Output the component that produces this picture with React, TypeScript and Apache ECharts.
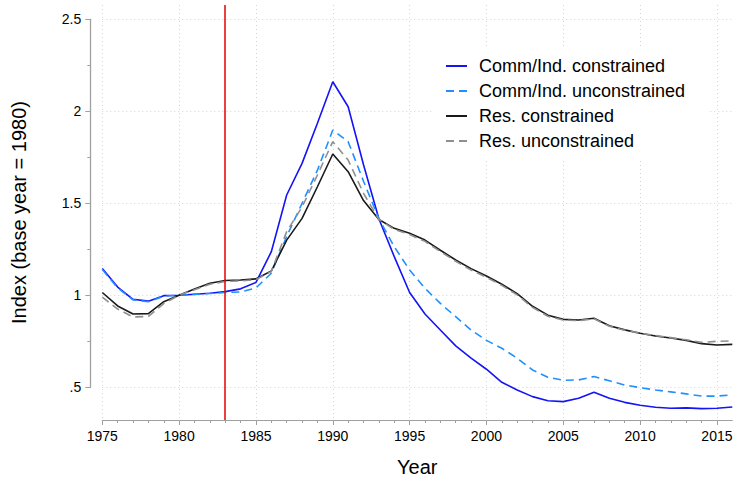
import React, { useEffect, useRef } from "react";
import * as echarts from "echarts";

// Years 1975–2016
const years: number[] = [];
for (let y = 1975; y <= 2016; y++) years.push(y);

const commConstrained = [
  1.145, 1.045, 0.978, 0.968, 0.998, 1.0, 1.006, 1.011, 1.02, 1.035,
  1.07, 1.237, 1.545, 1.717, 1.935, 2.161, 2.025, 1.71, 1.416, 1.21,
  1.015, 0.898, 0.811, 0.725, 0.658, 0.598, 0.527, 0.485, 0.449, 0.427,
  0.422, 0.44, 0.473, 0.44, 0.418, 0.402, 0.391, 0.386, 0.388, 0.384,
  0.386, 0.393,
];
const commUnconstrained = [
  1.14, 1.04, 0.975, 0.965, 0.995, 1.0, 1.005, 1.01, 1.015, 1.018,
  1.04, 1.12, 1.32, 1.5, 1.68, 1.898, 1.835, 1.62, 1.416, 1.264,
  1.137, 1.038, 0.956, 0.884, 0.811, 0.755, 0.712, 0.658, 0.594, 0.554,
  0.538, 0.54, 0.558, 0.535, 0.512, 0.498, 0.485, 0.475, 0.464, 0.452,
  0.452, 0.459,
];
const resConstrained = [
  1.015, 0.942, 0.898, 0.9, 0.965, 1.0, 1.034, 1.065, 1.08, 1.083,
  1.089, 1.132, 1.3, 1.418, 1.59, 1.768, 1.672, 1.515, 1.412, 1.364,
  1.337, 1.3, 1.245, 1.192, 1.145, 1.105, 1.06, 1.009, 0.94, 0.892,
  0.869, 0.866, 0.875, 0.834, 0.812, 0.794, 0.779, 0.768, 0.755, 0.737,
  0.73, 0.733,
];
const resUnconstrained = [
  0.99, 0.925, 0.882, 0.885, 0.955, 1.0, 1.03, 1.06, 1.075, 1.078,
  1.085, 1.13, 1.346, 1.48, 1.654, 1.835, 1.735, 1.554, 1.412, 1.358,
  1.33, 1.293, 1.238, 1.185, 1.137, 1.098, 1.054, 1.002, 0.934, 0.886,
  0.865, 0.862, 0.872, 0.832, 0.81, 0.794, 0.781, 0.77, 0.758, 0.744,
  0.75, 0.752,
];

const seriesNames = [
  "Comm/Ind. constrained",
  "Comm/Ind. unconstrained",
  "Res. constrained",
  "Res. unconstrained",
];

const xMajorTicks = [1975, 1980, 1985, 1990, 1995, 2000, 2005, 2010, 2015];
const xMinorTicks = years.filter((y) => y % 5 !== 0 && y <= 2015);
const yMajorTicks = [0.5, 1, 1.5, 2, 2.5];
const yMinorTicks = [0.75, 1.25, 1.75, 2.25];
const policyYear = 1983;

const WIDTH = 737;
const HEIGHT = 477;
const X_MIN = 1975;
const X_MAX = 2016;
const Y_MIN = 0.322;
const Y_MAX = 2.578;
const GRID = { left: 102.3, right: 4.7, top: 5, bottom: 57 };
const Y_OFFSET = 12;
const AXIS_COLOR = "#a0a0a0";
const GRID_COLOR = "#d4d4d4";
const FONT = "'Liberation Sans', Arial, Helvetica, sans-serif";

const pairs = (vals: number[]) => years.map((y, i) => [y, vals[i]]);

// A second, empty grid spanning only .5 to 2.5 carries the shortened y axis line
const plotH = HEIGHT - GRID.top - GRID.bottom;
const yPos = (v: number) => GRID.top + ((Y_MAX - v) / (Y_MAX - Y_MIN)) * plotH;
const Y_LINE_LO = yMajorTicks[0];
const Y_LINE_HI = yMajorTicks[yMajorTicks.length - 1];
const axisGrid = {
  left: GRID.left - Y_OFFSET,
  right: GRID.right,
  top: yPos(Y_LINE_HI),
  bottom: HEIGHT - yPos(Y_LINE_LO),
};

export default function App() {
  const ref = useRef<HTMLDivElement>(null);

  useEffect(() => {
    if (!ref.current) return;
    const chart = echarts.init(ref.current, undefined, { renderer: "svg" });

    const lineSeries = (
      name: string,
      vals: number[],
      color: string,
      dashed: boolean,
      width: number
    ) => ({
      name,
      type: "line",
      xAxisIndex: 0,
      yAxisIndex: 0,
      data: pairs(vals),
      symbol: "none",
      showSymbol: false,
      lineStyle: { color, width, type: dashed ? [8, 5] : "solid" },
      itemStyle: { color },
      z: 3,
    });

    chart.setOption({
      animation: false,
      textStyle: { fontFamily: FONT },
      grid: [
        { ...GRID, containLabel: false, outerBoundsMode: "none" },
        { ...axisGrid, containLabel: false, outerBoundsMode: "none" },
      ],
      xAxis: [
        {
          type: "value",
          gridIndex: 0,
          min: X_MIN,
          max: X_MAX,
          name: "Year",
          nameLocation: "middle",
          nameGap: 37,
          nameTextStyle: { fontSize: 20, color: "#000", fontFamily: FONT },
          axisLine: { show: true, lineStyle: { color: AXIS_COLOR, width: 1.2 } },
          axisTick: {
            show: true,
            customValues: xMajorTicks,
            length: 5,
            lineStyle: { color: AXIS_COLOR },
          },
          axisLabel: {
            customValues: xMajorTicks,
            fontSize: 14,
            color: "#000",
            margin: 9,
            fontFamily: FONT,
            formatter: (v: number) => String(v),
          },
          splitLine: {
            show: true,
            lineStyle: { color: GRID_COLOR, type: [1, 3], width: 1 },
          },
        },
        {
          type: "value",
          gridIndex: 0,
          min: X_MIN,
          max: X_MAX,
          position: "bottom",
          axisLine: { show: false },
          axisTick: {
            show: true,
            customValues: xMinorTicks,
            length: 3,
            lineStyle: { color: AXIS_COLOR },
          },
          axisLabel: { show: false },
          splitLine: { show: false },
        },
        {
          type: "value",
          gridIndex: 1,
          min: X_MIN,
          max: X_MAX,
          show: false,
        },
      ],
      yAxis: [
        {
          type: "value",
          gridIndex: 0,
          min: Y_MIN,
          max: Y_MAX,
          offset: Y_OFFSET,
          name: "Index (base year = 1980)",
          nameLocation: "middle",
          nameGap: 61,
          nameTextStyle: { fontSize: 20, color: "#000", fontFamily: FONT },
          axisLine: { show: false },
          axisTick: {
            show: true,
            customValues: yMajorTicks,
            length: 5,
            lineStyle: { color: AXIS_COLOR },
          },
          axisLabel: {
            customValues: yMajorTicks,
            fontSize: 14,
            color: "#000",
            margin: 9,
            fontFamily: FONT,
            formatter: (v: number) => String(v).replace(/^0\./, "."),
          },
          splitLine: {
            show: true,
            lineStyle: { color: GRID_COLOR, type: [1, 3], width: 1 },
          },
        },
        {
          type: "value",
          gridIndex: 0,
          min: Y_MIN,
          max: Y_MAX,
          position: "left",
          offset: Y_OFFSET,
          axisLine: { show: false },
          axisTick: {
            show: true,
            customValues: yMinorTicks,
            length: 3,
            lineStyle: { color: AXIS_COLOR },
          },
          axisLabel: { show: false },
          splitLine: { show: false },
        },
        {
          type: "value",
          gridIndex: 1,
          min: Y_LINE_LO,
          max: Y_LINE_HI,
          position: "left",
          axisLine: { show: true, onZero: false, lineStyle: { color: AXIS_COLOR, width: 1.3 } },
          axisTick: { show: false },
          axisLabel: { show: false },
          splitLine: { show: false },
        },
      ],
      legend: {
        orient: "vertical",
        left: 434,
        top: 48,
        padding: [8, 23, 8, 11],
        backgroundColor: "#fff",
        itemWidth: 21,
        itemHeight: 14,
        itemGap: 5,
        data: seriesNames,
        itemStyle: { opacity: 0 },
        textStyle: {
          fontSize: 18,
          lineHeight: 20,
          color: "#000",
          fontFamily: FONT,
          padding: [0, 0, 0, 7],
        },
      },
      series: [
        {
          ...lineSeries(seriesNames[0], commConstrained, "#1414f5", false, 1.6),
          markLine: {
            silent: true,
            symbol: "none",
            label: { show: false },
            lineStyle: { color: "#e30000", width: 1.5, type: "solid" },
            data: [{ xAxis: policyYear }],
          },
        },
        lineSeries(seriesNames[1], commUnconstrained, "#2190ff", true, 1.6),
        lineSeries(seriesNames[2], resConstrained, "#1a1a1a", false, 1.6),
        lineSeries(seriesNames[3], resUnconstrained, "#8f8f8f", true, 1.6),
      ],
    });

    return () => chart.dispose();
  }, []);

  return (
    <div
      ref={ref}
      style={{ position: "fixed", left: 0, top: 0, width: WIDTH, height: HEIGHT, background: "#fff" }}
    />
  );
}
